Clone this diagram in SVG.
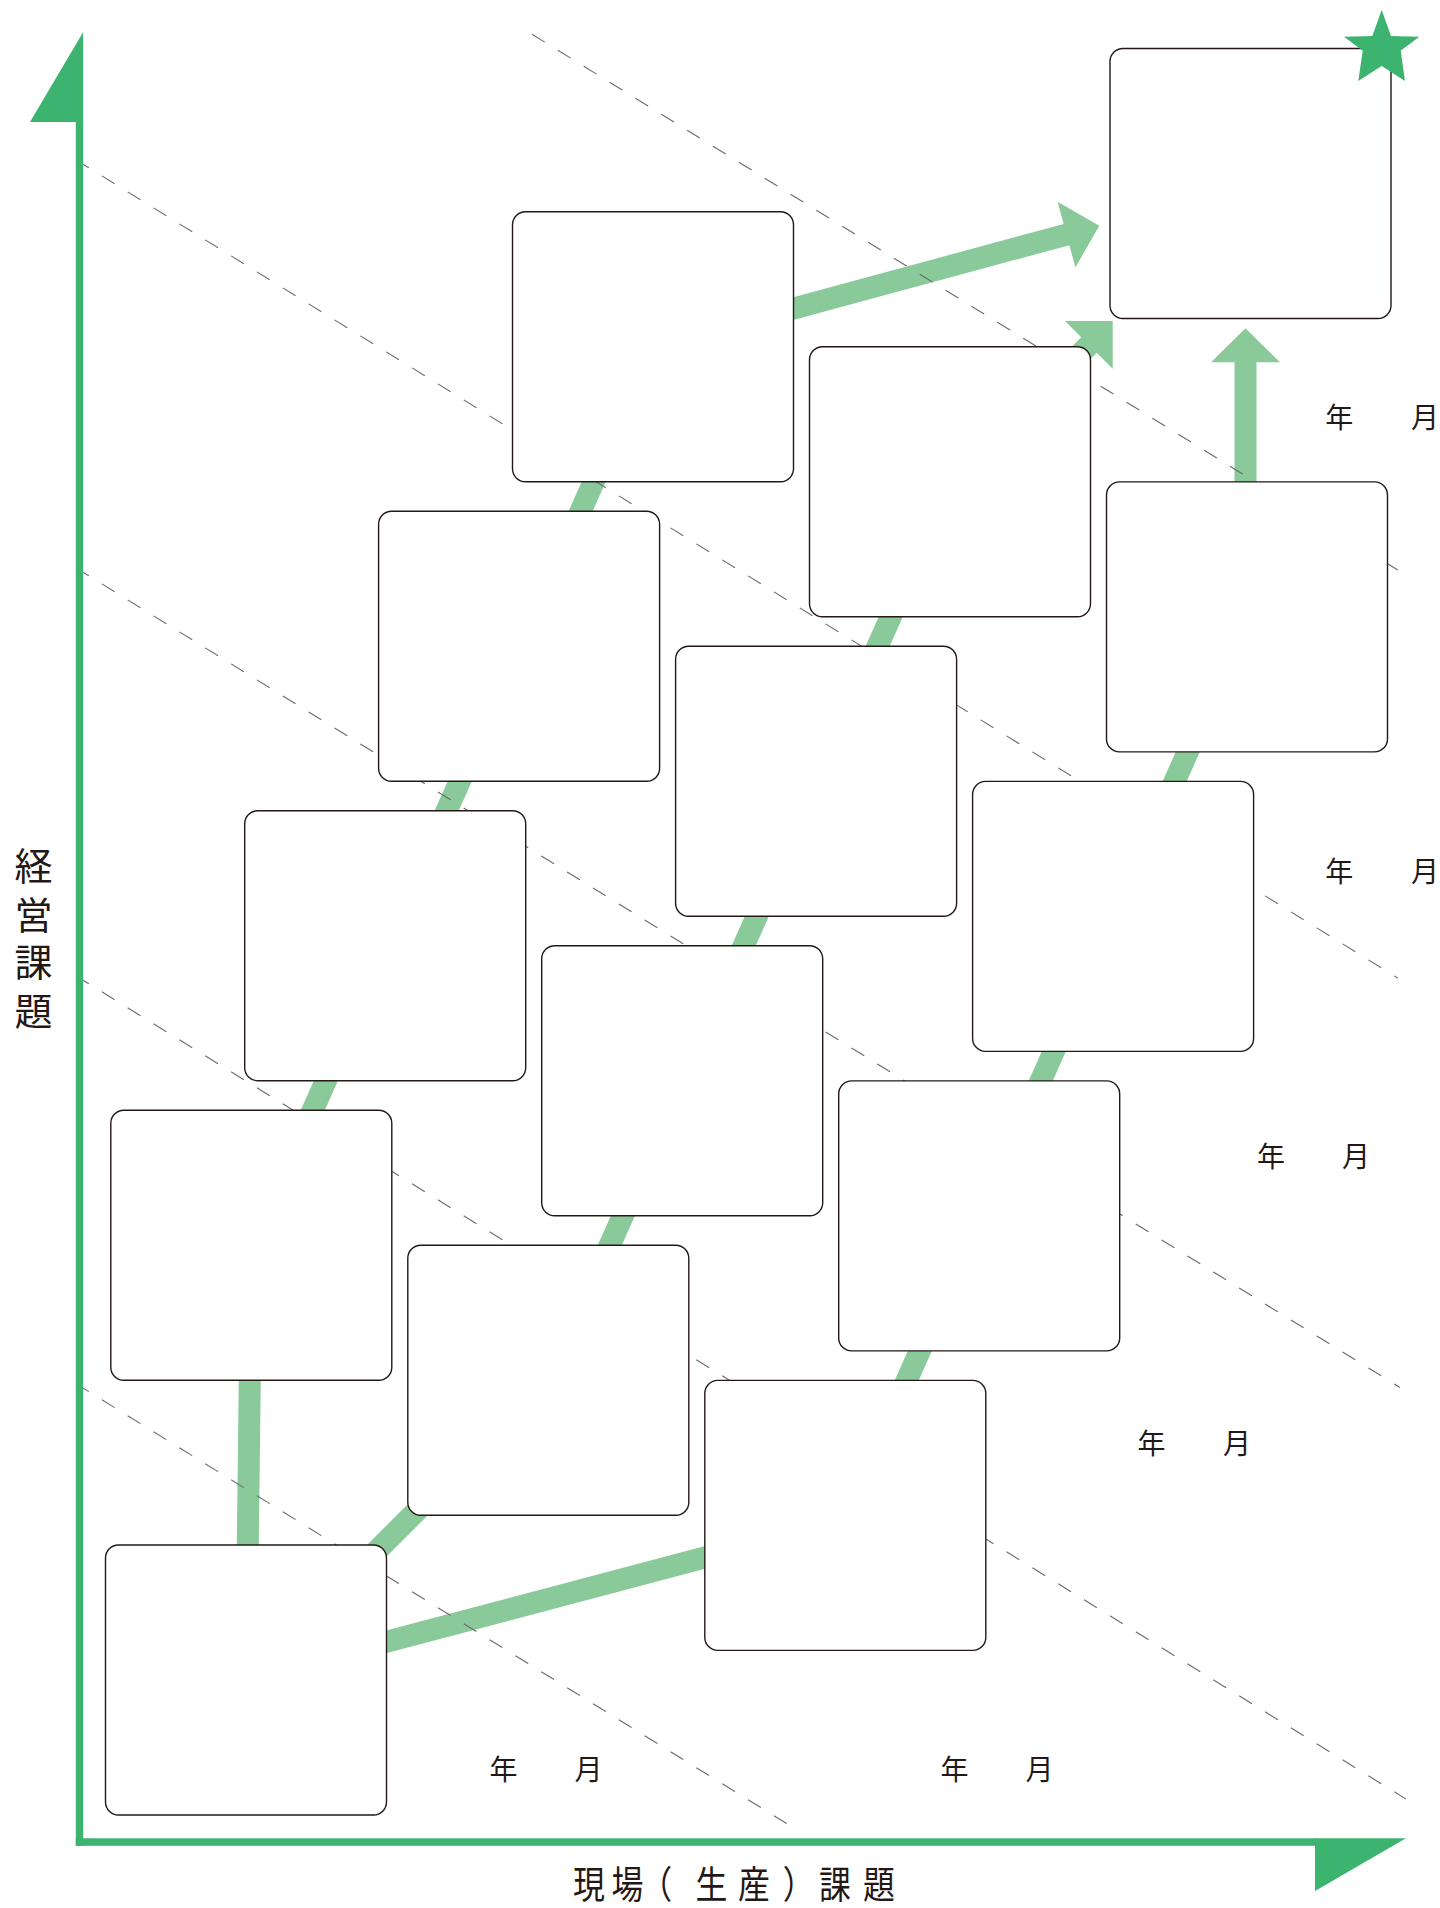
<svg xmlns="http://www.w3.org/2000/svg" width="1440" height="1908" viewBox="0 0 1440 1908">
  <style>
    .box { fill: #ffffff; stroke: #231815; stroke-width: 1.4; }
    .conn { fill: none; stroke: #8ACA9A; stroke-width: 22; stroke-linecap: butt; }
    .head { fill: #8ACA9A; stroke: none; }
    .dash { fill: none; stroke: #6b6b6b; stroke-width: 1.1; stroke-dasharray: 15 15.4; }
    .axis { fill: #3DB370; stroke: none; }
    .lbl { font-family: "Noto Sans CJK JP", "Noto Sans", sans-serif; fill: #231815; text-anchor: middle; }
    .date { font-size: 28px; }
    .title { font-size: 38px; }
  </style>
  <rect width="1440" height="1908" fill="#ffffff"/>

  <g id="connectors">
    <!-- chains of stacked boxes -->
    <line class="conn" x1="286.0" y1="1169.9" x2="701.1" y2="241.7"/>
    <line class="conn" x1="583.0" y1="1305.0" x2="998.1" y2="376.8"/>
    <line class="conn" x1="880.0" y1="1440.1" x2="1295.1" y2="511.9"/>
    <!-- from bottom-left box -->
    <line class="conn" x1="247.1" y1="1600" x2="250.4" y2="1330"/>
    <line class="conn" x1="350" y1="1577.5" x2="445" y2="1482.5"/>
    <line class="conn" x1="350" y1="1651.4" x2="740" y2="1548.1"/>
    <!-- arrows to goal -->
    <line class="conn" x1="751.8" y1="319.9" x2="1067.5" y2="234.3"/>
    <polygon class="head" points="1099.3,225.7 1057.6,201.8 1075.4,267.4"/>
    <line class="conn" x1="1055" y1="379" x2="1089.5" y2="344.5"/>
    <polygon class="head" points="1112.7,321 1065,321 1112.7,368.7"/>
    <line class="conn" x1="1245.5" y1="520" x2="1245.5" y2="361"/>
    <polygon class="head" points="1245.5,328.3 1211,362.3 1280,362.3"/>
  </g>

  <g id="guides">
    <line class="dash" x1="532" y1="34.2" x2="1408" y2="576.4"/>
    <line class="dash" x1="76" y1="159.9" x2="1398" y2="978.2"/>
    <line class="dash" x1="76" y1="567.9" x2="1400" y2="1387.5"/>
    <line class="dash" x1="76" y1="975.8" x2="1406" y2="1799.1"/>
    <line class="dash" x1="76" y1="1383.7" x2="798" y2="1830.6"/>
  </g>

  <g id="node-goal"><rect class="box" x="1110" y="48.5" width="281" height="270" rx="13"/></g>
  <g id="node-2"><rect class="box" x="512.5" y="211.7" width="281" height="270" rx="13"/></g>
  <g id="node-3"><rect class="box" x="809.5" y="346.8" width="281" height="270" rx="13"/></g>
  <g id="node-4"><rect class="box" x="1106.5" y="481.9" width="281" height="270" rx="13"/></g>
  <g id="node-5"><rect class="box" x="378.6" y="511.2" width="281" height="270" rx="13"/></g>
  <g id="node-6"><rect class="box" x="675.6" y="646.3" width="281" height="270" rx="13"/></g>
  <g id="node-7"><rect class="box" x="972.6" y="781.4" width="281" height="270" rx="13"/></g>
  <g id="node-8"><rect class="box" x="244.7" y="810.7" width="281" height="270" rx="13"/></g>
  <g id="node-9"><rect class="box" x="541.7" y="945.8" width="281" height="270" rx="13"/></g>
  <g id="node-10"><rect class="box" x="838.7" y="1080.9" width="281" height="270" rx="13"/></g>
  <g id="node-11"><rect class="box" x="110.8" y="1110.2" width="281" height="270" rx="13"/></g>
  <g id="node-12"><rect class="box" x="407.8" y="1245.3" width="281" height="270" rx="13"/></g>
  <g id="node-13"><rect class="box" x="704.8" y="1380.4" width="281" height="270" rx="13"/></g>
  <g id="node-14"><rect class="box" x="105.5" y="1545" width="281" height="270" rx="13"/></g>

  <g id="star">
    <polygon fill="#3DB370" points="1381.7,10 1391,36 1419.3,36.7 1400.7,50.7 1405,81 1381.7,66 1358.3,81 1362.7,50.7 1344,36.7 1372.3,36"/>
  </g>

  <g id="axes">
    <rect class="axis" x="75.8" y="120" width="7.4" height="1725.8"/>
    <polygon class="axis" points="83.2,32 83.2,122 30,122"/>
    <rect class="axis" x="75.8" y="1838.3" width="1240" height="7.5"/>
    <polygon class="axis" points="1315,1838.3 1406,1838.3 1315,1891"/>
  </g>

  <g id="dates">
    <text class="lbl date" x="1339.3 1425" y="428.4">年月</text>
    <text class="lbl date" x="1339.3 1425" y="882.2">年月</text>
    <text class="lbl date" x="1271 1356" y="1167">年月</text>
    <text class="lbl date" x="1151.6 1237" y="1454.3">年月</text>
    <text class="lbl date" x="503.5 588.5" y="1780.3">年月</text>
    <text class="lbl date" x="954.4 1039.5" y="1780.3">年月</text>
  </g>

  <g id="axis-labels">
    <text class="lbl title" x="33.4 33.4 33.4 33.4" y="880.4 929 976 1025">経営課題</text>
    <text class="lbl title" transform="scale(0.84 1)" x="701.2 747.0 781.3 847.0 897.6 950.8 994.0 1046.4" y="1898">現場（生産）課題</text>
  </g>
</svg>
